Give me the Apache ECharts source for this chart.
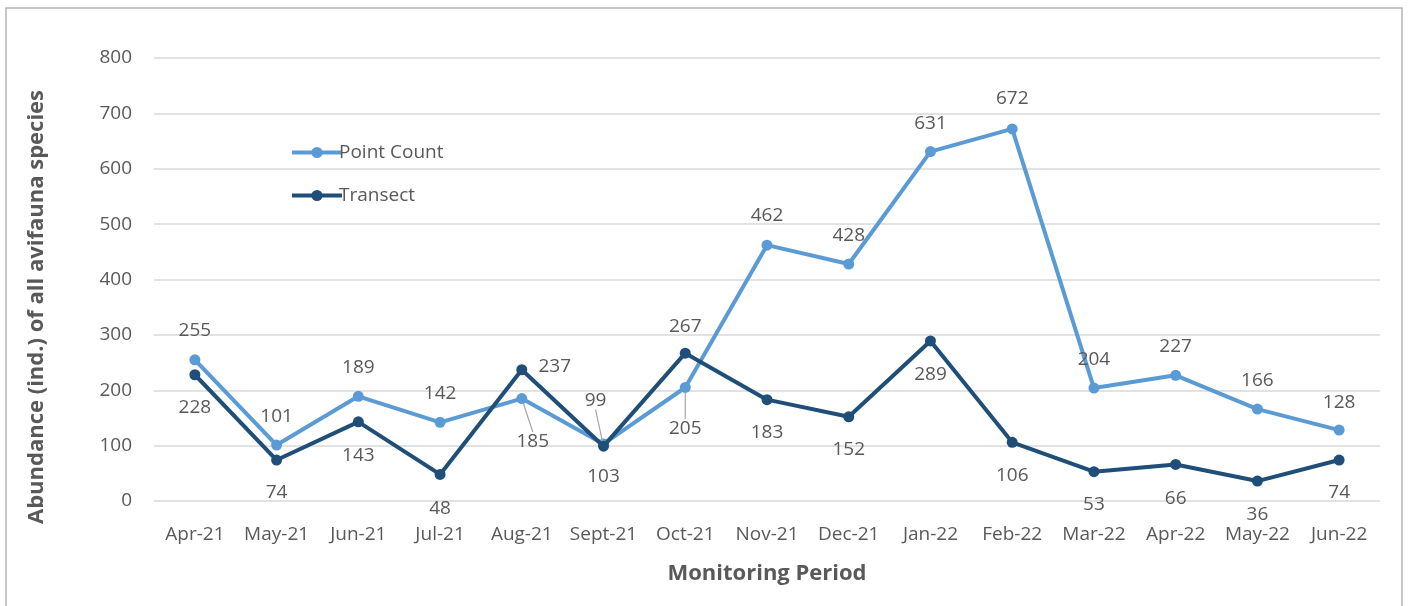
<!DOCTYPE html>
<html>
<head>
<meta charset="utf-8">
<script src="https://cdn.jsdelivr.net/npm/echarts@6/dist/echarts.min.js"></script>
<style>html,body{margin:0;padding:0;background:#fff;}#c{width:1409px;height:606px;}</style>
</head>
<body>
<div id="c"></div>
<script>
const categories = ['Apr-21','May-21','Jun-21','Jul-21','Aug-21','Sept-21','Oct-21','Nov-21','Dec-21','Jan-22','Feb-22','Mar-22','Apr-22','May-22','Jun-22'];
const pointCount = [255,101,189,142,185,103,205,462,428,631,672,204,227,166,128];
const transect = [228,74,143,48,237,99,267,183,152,289,106,53,66,36,74];
const yTicks = [0,100,200,300,400,500,600,700,800];
const yTitle = 'Abundance (ind.) of all avifauna species';
const xTitle = 'Monitoring Period';

// label placement offsets (style only)
const pcOffsets = [[0,-29],[0,-28],[0,-29],[0,-29],[11,43],[0,33],[0,41],[0,-30],[0,-28],[0,-28],[0,-30],[0,-28],[0,-29],[0,-28],[0,-28]];
const trOffsets = [[0,33],[0,33],[0,34],[0,34],[33,-3],[-8,-46],[0,-27],[0,33],[0,33],[0,34],[0,33],[0,33],[0,34],[0,34],[0,33]];
const pcLeader = [4,6];
const trLeader = [5];

const FONT = 'Open Sans';
const TXT = '#595959';
const FS = 19;

function mkData(vals, leaders){
  return vals.map((v,i)=>leaders.includes(i) ? {value:v, labelLine:{show:true}} : v);
}

const chart = echarts.init(document.getElementById('c'), null, {renderer:'canvas'});
chart.setOption({
  animation:false,
  backgroundColor:'#fff',
  graphic:[
    {type:'rect', shape:{x:6,y:8,width:1396,height:620}, style:{fill:'none', stroke:'#b4b4b4', lineWidth:1.5}, silent:true},
    {type:'text', x:37, y:307, rotation:Math.PI/2, style:{text:yTitle, font:'bold 22px "Open Sans"', fill:TXT, align:'center', verticalAlign:'middle'}, silent:true}
  ],
  grid:{left:154, right:29, top:58, bottom:105},
  legend:{
    orient:'vertical', left:285, top:138, itemGap:24, itemWidth:50, itemHeight:14,
    lineStyle:{width:4},
    textStyle:{fontFamily:FONT, fontSize:FS, color:TXT, padding:[0,0,0,-8]},
    data:['Point Count','Transect']
  },
  xAxis:{
    type:'category', data:categories, boundaryGap:true,
    axisLine:{show:false}, axisTick:{show:false},
    axisLabel:{fontFamily:FONT, fontSize:FS, color:TXT, margin:24, interval:0},
    name:xTitle, nameLocation:'middle', nameGap:62,
    nameTextStyle:{fontFamily:FONT, fontSize:22, fontWeight:'bold', color:TXT}
  },
  yAxis:{
    type:'value', min:0, max:800, interval:100,
    axisLine:{show:false}, axisTick:{show:false},
    splitLine:{lineStyle:{color:'#d9d9d9', width:1.5}},
    axisLabel:{fontFamily:FONT, fontSize:FS, color:TXT, margin:22,
      formatter:(v)=>yTicks.includes(v)?String(v):''}
  },
  series:[
    {
      name:'Point Count', type:'line', data:mkData(pointCount, pcLeader),
      color:'#5b9bd5', lineStyle:{width:4, color:'#5b9bd5'},
      symbol:'circle', symbolSize:11, itemStyle:{color:'#5b9bd5'},
      label:{show:true, position:'inside', fontFamily:FONT, fontSize:FS, color:TXT},
      labelLine:{show:false, lineStyle:{color:'#a6a6a6', width:1.2}},
      labelLayout:(p)=>({dx:pcOffsets[p.dataIndex][0], dy:pcOffsets[p.dataIndex][1]}),
      z:2
    },
    {
      name:'Transect', type:'line', data:mkData(transect, trLeader),
      color:'#1f4e79', lineStyle:{width:4, color:'#1f4e79'},
      symbol:'circle', symbolSize:11, itemStyle:{color:'#1f4e79'},
      label:{show:true, position:'inside', fontFamily:FONT, fontSize:FS, color:TXT},
      labelLine:{show:false, lineStyle:{color:'#a6a6a6', width:1.2}},
      labelLayout:(p)=>({dx:trOffsets[p.dataIndex][0], dy:trOffsets[p.dataIndex][1]}),
      z:3
    }
  ]
});
</script>
</body>
</html>
